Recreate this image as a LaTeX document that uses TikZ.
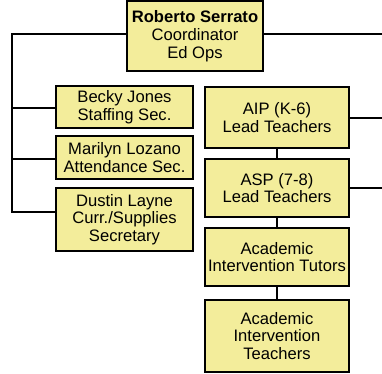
\documentclass[tikz,border=0pt]{standalone}
\usepackage{fontspec}
\setmainfont{Liberation Sans}
\usepackage{xcolor}
\usepackage{tikz}
\usetikzlibrary{positioning}
\definecolor{boxyellow}{RGB}{243,237,155}

\begin{document}
\begin{tikzpicture}[x=1pt,y=-1pt,line width=1.4pt,
	post/.style={draw,line width=2.4pt,fill=boxyellow,align=center,inner sep=0pt,
		font=\fontsize{16.6}{17.8}\selectfont},
	leftpost/.style={post,minimum width=137pt},
	rightpost/.style={post,minimum width=144pt}]
	\useasboundingbox (0,0) rectangle (382,373);
	\node[post,minimum width=136pt,minimum height=70pt] (coord) at (195,36) {\textbf{Roberto Serrato}\\Coordinator\\Ed Ops};
	\node[leftpost,minimum height=42pt] (becky) at (124.5,107) {Becky Jones\\Staffing Sec.};
	\node[leftpost,minimum height=43pt] (marilyn) at (124.5,157.5) {Marilyn Lozano\\Attendance Sec.};
	\node[leftpost,minimum height=63pt] (dustin) at (124.5,219.5) {Dustin Layne\\Curr./Supplies\\Secretary};
	\node[rightpost,minimum height=61pt] (aip) at (277,117.5) {AIP (K-6)\\Lead Teachers};
	\node[rightpost,minimum height=58pt] (asp) at (277,188) {ASP (7-8)\\Lead Teachers};
	\node[rightpost,minimum height=58pt] (tutors) at (277,257) {Academic\\Intervention Tutors};
	\node[rightpost,minimum height=72pt] (teachers) at (277,336) {Academic\\Intervention\\Teachers};
	
	\coordinate (lefttop) at (12,34);
	\coordinate (rightend) at (382,34);
	\coordinate (aipend) at (382,118);
	\coordinate (aspend) at (382,188);
	
	\draw (coord.west |- lefttop) -- (lefttop) -- (12,212) -- (dustin.west |- 0,212);
	\draw (12,108) -- (becky.west |- 0,108);
	\draw (12,159) -- (marilyn.west |- 0,159);
	\draw (coord.east |- rightend) -- (rightend);
	\draw (aip.east |- aipend) -- (aipend);
	\draw (asp.east |- aspend) -- (aspend);
	\draw (aip.south) -- (asp.north)
		(asp.south) -- (tutors.north)
		(tutors.south) -- (teachers.north);
\end{tikzpicture}
\end{document}
